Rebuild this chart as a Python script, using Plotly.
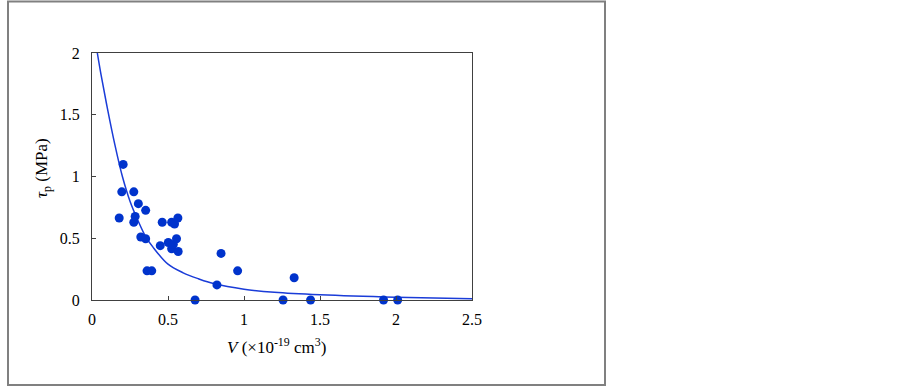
import plotly.graph_objects as go

# measured data points
vol = [0.179, 0.196, 0.205, 0.275, 0.275, 0.284, 0.305, 0.321, 0.353, 0.353,
       0.362, 0.393, 0.449, 0.462, 0.502, 0.524, 0.524, 0.535, 0.543, 0.556,
       0.565, 0.567, 0.678, 0.822, 0.849, 0.958, 1.257, 1.330, 1.438, 1.918, 2.011]
tau = [0.664, 0.876, 1.098, 0.876, 0.630, 0.677, 0.780, 0.510, 0.726, 0.496,
       0.236, 0.236, 0.440, 0.630, 0.466, 0.630, 0.415, 0.450, 0.615, 0.496,
       0.664, 0.393, 0.000, 0.122, 0.377, 0.236, 0.000, 0.180, 0.000, 0.000, 0.000]

# fitted curve
fit_v = [0.035, 0.06, 0.10, 0.15, 0.20, 0.25, 0.30, 0.35, 0.40, 0.50, 0.60,
         0.70, 0.80, 1.00, 1.20, 1.50, 2.00, 2.50]
fit_t = [2.00, 1.82, 1.56, 1.26, 1.00, 0.80, 0.65, 0.52, 0.43, 0.29, 0.22,
         0.172, 0.133, 0.087, 0.062, 0.042, 0.022, 0.010]

x_ticks = [0, 0.5, 1, 1.5, 2, 2.5]
x_labels = ["0", "0.5", "1", "1.5", "2", "2.5"]
y_ticks = [0, 0.5, 1, 1.5, 2]
y_labels = ["0", "0.5", "1", "1.5", "2"]

font = "Liberation Serif"

fig = go.Figure()
fig.add_trace(go.Scatter(x=fit_v, y=fit_t, mode="lines", line_shape="spline",
                         line=dict(color="#1a3cd8", width=1.5), showlegend=False,
                         cliponaxis=True))
fig.add_trace(go.Scatter(x=vol, y=tau, mode="markers",
                         marker=dict(color="#0033cc", size=9), showlegend=False,
                         cliponaxis=False))

W, H = 903, 387
L, R, T, B = 92, 472, 53, 300
pw, ph = R - L, B - T

def px(x):
    return (x - L) / pw

def py(y):
    return (B - y) / ph

fig.update_layout(
    width=W, height=H,
    margin=dict(l=L, r=W - R, t=T, b=H - B),
    paper_bgcolor="white", plot_bgcolor="white",
    font=dict(family=font, size=16, color="black"),
    xaxis=dict(range=[0, 2.5], tickvals=x_ticks, ticktext=x_labels,
               showgrid=False, zeroline=False, showline=True, linecolor="#404040",
               linewidth=1, mirror=True, ticks="inside", ticklen=4,
               tickcolor="#404040", fixedrange=True, automargin=False,
               ticklabelstandoff=5, tickfont=dict(family=font, size=16)),
    yaxis=dict(range=[0, 2], tickvals=y_ticks, ticktext=y_labels,
               showgrid=False, zeroline=False, showline=True, linecolor="#404040",
               linewidth=1, mirror=True, ticks="inside", ticklen=4,
               tickcolor="#404040", fixedrange=True, automargin=False,
               ticklabelstandoff=8, tickfont=dict(family=font, size=16)),
    shapes=[dict(type="rect", xref="paper", yref="paper",
                 x0=px(8), x1=px(605), y0=py(385), y1=py(1.5),
                 line=dict(color="#808080", width=2), layer="below")],
    annotations=[
        dict(text="<i>V</i> (×10<sup>-19</sup> cm<sup>3</sup>)", xref="paper", yref="paper",
             x=px(276), y=py(346), showarrow=False, xanchor="center", yanchor="middle",
             font=dict(family=font, size=17)),
        dict(text="<i>τ</i><sub>p</sub> (MPa)", xref="paper", yref="paper",
             x=px(43), y=py(168), showarrow=False, textangle=-90,
             xanchor="center", yanchor="middle", font=dict(family=font, size=17)),
    ],
)

fig.write_html("out.html", config={"displayModeBar": False},
               post_script="document.body.style.margin='0';")
